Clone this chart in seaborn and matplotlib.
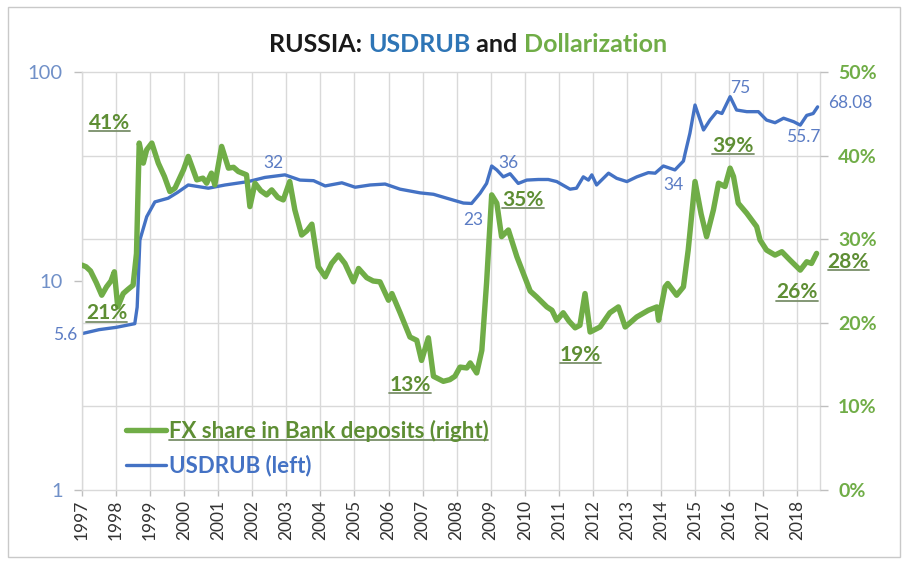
import matplotlib
matplotlib.use("Agg")
import numpy as np
import pandas as pd
import seaborn as sns
import matplotlib.pyplot as plt
from matplotlib.lines import Line2D
from matplotlib.patches import Rectangle
from matplotlib.ticker import FixedLocator, FixedFormatter, NullLocator

# ---------------- data ----------------
fx_time = [1997.00, 1997.12, 1997.25, 1997.42, 1997.58, 1997.72, 1997.85, 1997.95, 1998.05, 1998.21,
           1998.35, 1998.50, 1998.60, 1998.68, 1998.80, 1998.90, 1999.05, 1999.24, 1999.42, 1999.58,
           1999.73, 1999.98, 2000.12, 2000.37, 2000.55, 2000.66, 2000.80, 2000.90, 2001.10, 2001.30,
           2001.45, 2001.59, 2001.83, 2001.93, 2002.08, 2002.25, 2002.42, 2002.57, 2002.75, 2002.91,
           2003.10, 2003.25, 2003.45, 2003.60, 2003.75, 2003.94, 2004.14, 2004.33, 2004.53, 2004.72,
           2004.97, 2005.12, 2005.36, 2005.55, 2005.75, 2006.00, 2006.10, 2006.34, 2006.63, 2006.83,
           2006.97, 2007.17, 2007.32, 2007.61, 2007.80, 2007.95, 2008.10, 2008.30, 2008.40, 2008.59,
           2008.74, 2008.88, 2009.03, 2009.18, 2009.32, 2009.52, 2009.77, 2009.96, 2010.16, 2010.35,
           2010.65, 2010.80, 2010.94, 2011.13, 2011.30, 2011.48, 2011.62, 2011.77, 2011.92, 2012.21,
           2012.50, 2012.75, 2012.95, 2013.29, 2013.63, 2013.88, 2013.93, 2014.12, 2014.20, 2014.46,
           2014.66, 2014.80, 2015.00, 2015.18, 2015.34, 2015.54, 2015.69, 2015.88, 2016.03, 2016.13,
           2016.27, 2016.52, 2016.81, 2016.91, 2017.10, 2017.35, 2017.55, 2017.79, 2018.09, 2018.28,
           2018.42, 2018.57]
fx_share_pct = [26.9, 26.7, 26.2, 24.8, 23.3, 24.3, 25.0, 26.1, 21.9, 23.5,
                24.0, 24.5, 28.3, 41.5, 39.1, 40.7, 41.5, 39.1, 37.5, 35.7,
                36.1, 38.3, 39.9, 37.1, 37.3, 36.7, 37.9, 36.5, 41.1, 38.5,
                38.6, 38.1, 37.7, 33.9, 36.7, 35.8, 35.3, 35.9, 35.0, 34.7,
                36.9, 33.5, 30.5, 31.0, 31.8, 26.7, 25.5, 27.1, 28.1, 27.1,
                24.9, 26.5, 25.4, 25.0, 24.9, 22.7, 23.5, 21.2, 18.3, 17.9,
                15.5, 18.2, 13.6, 13.0, 13.2, 13.6, 14.7, 14.6, 15.2, 14.0,
                16.7, 24.8, 35.3, 34.3, 30.3, 31.1, 27.9, 25.9, 23.8, 23.1,
                21.9, 21.5, 20.3, 21.2, 20.2, 19.4, 19.7, 23.5, 18.9, 19.5,
                21.2, 21.9, 19.5, 20.7, 21.5, 21.9, 20.3, 24.3, 24.7, 23.3,
                24.3, 28.7, 36.9, 33.0, 30.3, 33.5, 36.7, 36.3, 38.5, 37.5,
                34.3, 33.1, 31.5, 29.9, 28.7, 28.1, 28.5, 27.5, 26.3, 27.3,
                27.1, 28.3]

rub_time = [1997.00, 1997.50, 1998.00, 1998.55, 1998.62, 1998.70, 1998.90, 1999.14, 1999.53, 1999.80,
            2000.12, 2000.71, 2001.20, 2001.88, 2002.37, 2002.96, 2003.40, 2003.80, 2004.14, 2004.63,
            2005.02, 2005.46, 2005.90, 2006.34, 2006.93, 2007.32, 2007.71, 2008.20, 2008.44, 2008.69,
            2008.88, 2009.03, 2009.18, 2009.37, 2009.57, 2009.81, 2010.06, 2010.40, 2010.69, 2010.94,
            2011.33, 2011.52, 2011.72, 2011.87, 2011.97, 2012.11, 2012.46, 2012.70, 2013.00, 2013.29,
            2013.63, 2013.83, 2014.07, 2014.41, 2014.66, 2014.71, 2014.85, 2015.00, 2015.25, 2015.44,
            2015.64, 2015.79, 2016.03, 2016.22, 2016.52, 2016.86, 2017.10, 2017.35, 2017.60, 2017.90,
            2018.09, 2018.28, 2018.47, 2018.60]
usdrub = [5.6, 5.85, 6.0, 6.25, 7.5, 15.7, 20.3, 23.9, 24.9, 26.5,
          28.8, 27.8, 28.8, 29.9, 31.3, 32.2, 30.4, 30.2, 28.5, 29.5,
          28.1, 28.8, 29.1, 27.5, 26.4, 26.0, 24.9, 23.6, 23.5, 26.3,
          29.3, 35.5, 34.0, 31.5, 32.6, 29.3, 30.4, 30.6, 30.6, 29.9,
          27.5, 27.8, 31.5, 30.4, 32.2, 28.8, 32.8, 31.0, 29.9, 31.5,
          33.0, 32.8, 35.5, 34.0, 37.5, 40.8, 50.9, 69.5, 52.8, 58.9,
          64.6, 63.3, 76.2, 65.8, 64.6, 64.6, 58.9, 57.2, 60.1, 57.8,
          55.7, 62.0, 63.3, 68.1]

year_ticks = list(range(1997, 2019))
left_ticks = [1, 10, 100]
left_tick_labels = ["1", "10", "100"]
right_ticks = [0.0, 0.1, 0.2, 0.3, 0.4, 0.5]
right_tick_labels = ["0%", "10%", "20%", "30%", "40%", "50%"]

legend_labels = ["FX share in Bank deposits (right)", "USDRUB (left)"]

# annotation texts (x = year, y = value on its own axis)
rub_notes = [("5.6", 1996.50, 5.5), ("32", 2002.61, 36.7), ("23", 2008.48, 19.6),
             ("36", 2009.51, 36.7), ("34", 2014.36, 28.8), ("75", 2016.32, 83.8),
             ("55.7", 2018.17, 48.9), ("68.08", 2019.55, 71.1)]
fx_notes = [("41%", 1997.82, 0.439), ("21%", 1997.73, 0.2117), ("13%", 2006.63, 0.1256),
            ("35%", 2009.95, 0.3469), ("19%", 2011.63, 0.1615), ("39%", 2016.12, 0.4115),
            ("26%", 2018.00, 0.2368), ("28%", 2019.50, 0.2730)]

fx_df = pd.DataFrame({"time": fx_time, "share": np.array(fx_share_pct) / 100.0})
rub_df = pd.DataFrame({"time": rub_time, "rate": usdrub})

# ---------------- style ----------------
sns.set_style("white")
plt.rcParams['font.family'] = ['Lato', 'DejaVu Sans']

GREEN = "#70AD47"
GREEN_TXT = "#5E8E34"
BLUE = "#4472C4"
BLUE_TXT = "#5B7CC4"
GRID = "#D9D9D9"
TICK = "#BFBFBF"

W, H = 907, 566
fig = plt.figure(figsize=(W / 100, H / 100), dpi=100)
fig.patch.set_facecolor("white")
L, R, T, B = 82, 820, 72, 490
axL = fig.add_axes([L / W, 1 - B / H, (R - L) / W, (B - T) / H])
axR = axL.twinx()

# left axis: USDRUB on log scale
sns.lineplot(data=rub_df, x="time", y="rate", ax=axL, color=BLUE, linewidth=2.4,
             estimator=None, sort=False, legend=False)
axL.set_yscale("log")
axL.set_ylim(1, 100)
axL.set_xlim(1997.0, 2018.67)

# right axis: FX share
sns.lineplot(data=fx_df, x="time", y="share", ax=axR, color=GREEN, linewidth=3.9,
             estimator=None, sort=False, legend=False)
axR.set_ylim(0, 0.5)

# ticks
axL.xaxis.set_major_locator(FixedLocator(year_ticks))
axL.xaxis.set_major_formatter(FixedFormatter([str(y) for y in year_ticks]))
axL.xaxis.set_minor_locator(NullLocator())
axL.yaxis.set_major_locator(FixedLocator(left_ticks))
axL.yaxis.set_major_formatter(FixedFormatter(left_tick_labels))
# horizontal gridlines aligned to right-axis 10% steps
lo, hi = np.log10(axL.get_ylim())
grid_vals = [10 ** (lo + (p - 0.0) / 0.5 * (hi - lo)) for p in right_ticks]
axL.yaxis.set_minor_locator(FixedLocator(grid_vals))
axL.yaxis.set_minor_formatter(FixedFormatter([""] * len(grid_vals)))
axR.yaxis.set_major_locator(FixedLocator(right_ticks))
axR.yaxis.set_major_formatter(FixedFormatter(right_tick_labels))

axL.set_xlabel("")
axL.set_ylabel("")
axR.set_ylabel("")

axL.grid(True, axis="x", which="major", color=GRID, linewidth=1.0)
axL.grid(True, axis="y", which="minor", color=GRID, linewidth=1.0)
axL.grid(False, axis="y", which="major")
axL.set_axisbelow(True)

axL.tick_params(axis="y", which="major", direction="out", length=6, width=1, color=TICK,
                labelsize=14.5, labelcolor="#7090C8", pad=8, left=True)
axL.tick_params(axis="y", which="minor", length=0)
axL.tick_params(axis="x", which="major", direction="out", length=4, width=1, color=TICK,
                labelsize=12.5, labelcolor="#333333", labelrotation=90, pad=3, bottom=True)
axR.tick_params(axis="y", which="major", direction="out", length=6, width=1, color=TICK,
                labelsize=14, labelcolor=GREEN, pad=7, right=True)
for lab in axR.get_yticklabels():
    lab.set_fontweight("bold")

for s in axL.spines.values():
    s.set_color(GRID)
    s.set_linewidth(1.0)
for s in axR.spines.values():
    s.set_visible(False)

# annotations
for txt, xv, yv in rub_notes:
    axL.text(xv, yv, txt, color=BLUE_TXT, fontsize=12.5, ha="center", va="center", clip_on=False)
fx_texts = []
for txt, xv, yv in fx_notes:
    t = axR.text(xv, yv, txt, color=GREEN_TXT, fontsize=15, fontweight="bold",
                 ha="center", va="center", clip_on=False)
    fx_texts.append(t)

# legend
handles = [Line2D([], [], color=GREEN, lw=3.9), Line2D([], [], color=BLUE, lw=2.4)]
leg = fig.legend(handles, legend_labels, loc="center left",
                 bbox_to_anchor=(126 / W, 1 - 448 / H), frameon=False,
                 prop={"size": 16, "weight": "bold"}, handlelength=1.8,
                 handletextpad=0.12, labelspacing=0.6, borderpad=0, borderaxespad=0)
leg.get_texts()[0].set_color(GREEN_TXT)
leg.get_texts()[1].set_color(BLUE)

# title pieces
title_parts = [("RUSSIA: ", "#1A1A1A"), ("USDRUB", "#2E75B6"), (" and ", "#1A1A1A"),
               ("Dollarization", GREEN)]
title_texts = [fig.text(0, 1 - 45 / H, p, color=c, fontsize=18, fontweight="bold",
                        ha="left", va="center") for p, c in title_parts]

# outer frame
fig.patches.append(Rectangle((8 / W, 1 - 557 / H), (900 - 8) / W, (557 - 7) / H,
                             transform=fig.transFigure, fill=False,
                             edgecolor="#C9C9C9", linewidth=1.0))

fig.canvas.draw()
renderer = fig.canvas.get_renderer()

# place title segments side by side, centred
widths = [t.get_window_extent(renderer).width for t in title_texts]
total = sum(widths)
x0 = 468 - total / 2
for t, w in zip(title_texts, widths):
    t.set_x(x0 / W)
    x0 += w


def underline(t, color, lw=1.3):
    bb = t.get_window_extent(renderer)
    y = bb.y0 + 1.5
    fig.add_artist(Line2D([bb.x0 / W, bb.x1 / W], [y / H, y / H], color=color,
                          linewidth=lw, transform=fig.transFigure))


for t in fx_texts:
    underline(t, "#7A8F6A")
underline(leg.get_texts()[0], "#7A8F6A")

fig.savefig("out.png", dpi=100, facecolor="white")
